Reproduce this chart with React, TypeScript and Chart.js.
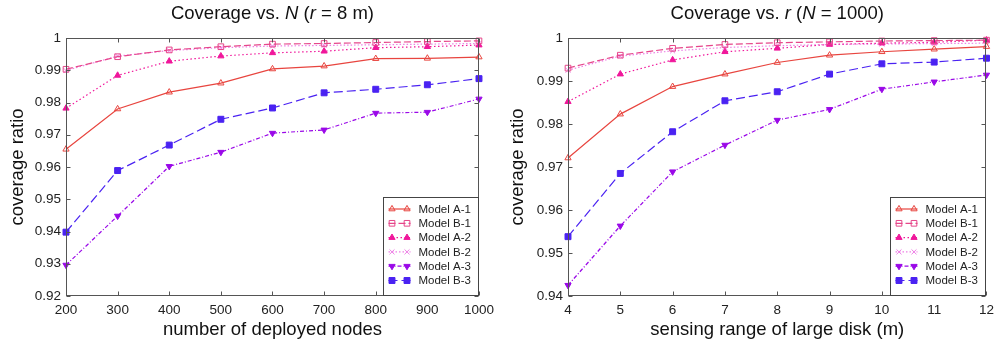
import React, { useEffect, useRef } from 'react';
import { Chart, registerables } from 'chart.js';

Chart.register(...registerables);

// ---------- data ----------
const nodeCounts = [200, 300, 400, 500, 600, 700, 800, 900, 1000];
const nodeA1 = [0.9655, 0.978, 0.9832, 0.986, 0.9904, 0.9913, 0.9936, 0.9937, 0.9941];
const nodeB1 = [0.9903, 0.9942, 0.9963, 0.9973, 0.9981, 0.9983, 0.9986, 0.9989, 0.9991];
const nodeA2 = [0.9782, 0.9884, 0.9928, 0.9944, 0.9954, 0.9959, 0.997, 0.9973, 0.9978];
const nodeB2 = [0.9899, 0.9944, 0.9961, 0.997, 0.9975, 0.9977, 0.9979, 0.9981, 0.9983];
const nodeA3 = [0.9296, 0.9448, 0.9602, 0.9646, 0.9705, 0.9715, 0.9767, 0.977, 0.9811];
const nodeB3 = [0.9398, 0.9589, 0.9668, 0.9748, 0.9783, 0.983, 0.9841, 0.9855, 0.9874];

const sensingRanges = [4, 5, 6, 7, 8, 9, 10, 11, 12];
const rangeA1 = [0.9721, 0.9823, 0.9887, 0.9916, 0.9943, 0.996, 0.9968, 0.9974, 0.998];
const rangeB1 = [0.993, 0.996, 0.9976, 0.9985, 0.9989, 0.9991, 0.9993, 0.9994, 0.9995];
const rangeA2 = [0.9852, 0.9916, 0.9949, 0.9968, 0.9976, 0.9985, 0.9988, 0.999, 0.9995];
const rangeB2 = [0.9925, 0.9958, 0.997, 0.9978, 0.9982, 0.9985, 0.9986, 0.9987, 0.9988];
const rangeA3 = [0.9425, 0.9563, 0.9689, 0.9751, 0.9809, 0.9834, 0.9881, 0.9898, 0.9914];
const rangeB3 = [0.9538, 0.9685, 0.9782, 0.9854, 0.9875, 0.9916, 0.994, 0.9944, 0.9953];

const seriesLabels = ['Model A-1', 'Model B-1', 'Model A-2', 'Model B-2', 'Model A-3', 'Model B-3'];

const leftTitle = [
  { text: 'Coverage vs. ', italic: false },
  { text: 'N', italic: true },
  { text: ' (', italic: false },
  { text: 'r', italic: true },
  { text: ' = 8 m)', italic: false },
];
const rightTitle = [
  { text: 'Coverage vs. ', italic: false },
  { text: 'r', italic: true },
  { text: ' (', italic: false },
  { text: 'N', italic: true },
  { text: ' = 1000)', italic: false },
];
const yAxisTitle = 'coverage ratio';
const leftXTitle = 'number of deployed nodes';
const rightXTitle = 'sensing range of large disk (m)';

// ---------- styles ----------
const FONT = "'Liberation Sans', Arial, sans-serif";
const seriesColors = ['#e8453f', '#e6468a', '#f0179b', '#ee80e6', '#9a08e8', '#4a22f2'];
const seriesDashes = [[], [7, 3], [1.5, 2.5], [1.5, 2], [4, 2, 1, 2], [9, 4]];
const seriesPointStyles = ['triangle', 'rect', 'triangle', 'crossRot', 'triangle', 'rect'];
const seriesFilled = [false, false, true, false, true, true];
const seriesRotations = [0, 0, 0, 0, 180, 0];
const seriesRadius = [3.6, 4, 3.6, 3.5, 3.6, 4.2];

function drawMarker(ctx: CanvasRenderingContext2D, style: string, x: number, y: number, r: number,
  rotation: number, color: string, filled: boolean) {
  ctx.save();
  ctx.setLineDash([]);
  ctx.strokeStyle = color;
  ctx.fillStyle = color;
  ctx.lineWidth = 1;
  ctx.beginPath();
  if (style === 'triangle') {
    const r0 = (rotation * Math.PI) / 180;
    for (let k = 0; k < 3; k++) {
      const a = r0 + (k * 2 * Math.PI) / 3;
      const px = x + Math.sin(a) * r;
      const py = y - Math.cos(a) * r;
      if (k === 0) ctx.moveTo(px, py); else ctx.lineTo(px, py);
    }
    ctx.closePath();
  } else if (style === 'rect') {
    const s = r * Math.SQRT1_2;
    ctx.rect(x - s, y - s, 2 * s, 2 * s);
  } else {
    const s = r * Math.SQRT1_2;
    ctx.moveTo(x - s, y - s); ctx.lineTo(x + s, y + s);
    ctx.moveTo(x + s, y - s); ctx.lineTo(x - s, y + s);
  }
  if (filled && style !== 'crossRot') ctx.fill();
  ctx.stroke();
  ctx.restore();
}

const framePlugin = {
  id: 'frameTicks',
  afterDatasetsDraw(chart: any) {
    const { ctx, chartArea: a, scales } = chart;
    ctx.save();
    ctx.strokeStyle = '#555';
    ctx.lineWidth = 1;
    ctx.setLineDash([]);
    const L = Math.round(a.left) + 0.5, R = Math.round(a.right) - 0.5;
    const T = Math.round(a.top) + 0.5, B = Math.round(a.bottom) - 0.5;
    ctx.beginPath();
    scales.y.ticks.forEach((t: any) => {
      const py = Math.round(scales.y.getPixelForValue(t.value)) + 0.5;
      ctx.moveTo(L, py); ctx.lineTo(L + 4, py);
      ctx.moveTo(R, py); ctx.lineTo(R - 4, py);
    });
    scales.x.ticks.forEach((t: any) => {
      const px = Math.round(scales.x.getPixelForValue(t.value)) + 0.5;
      ctx.moveTo(px, B); ctx.lineTo(px, B - 4);
      ctx.moveTo(px, T); ctx.lineTo(px, T + 4);
    });
    ctx.stroke();
    ctx.strokeRect(L, T, R - L, B - T);
    ctx.restore();
  },
};

const titlePlugin = {
  id: 'mixedTitle',
  afterDraw(chart: any, _args: any, opts: any) {
    const segs = opts.segments as { text: string; italic: boolean }[];
    if (!segs) return;
    const { ctx, chartArea: a } = chart;
    ctx.save();
    const size = 18.5;
    const fontFor = (it: boolean) => `${it ? 'italic ' : ''}${size}px ${FONT}`;
    let total = 0;
    const widths = segs.map((s) => { ctx.font = fontFor(s.italic); const w = ctx.measureText(s.text).width; total += w; return w; });
    let x = (a.left + a.right) / 2 - total / 2;
    ctx.fillStyle = '#111';
    ctx.textBaseline = 'alphabetic';
    ctx.textAlign = 'left';
    segs.forEach((s, i) => { ctx.font = fontFor(s.italic); ctx.fillText(s.text, x, 18.5); x += widths[i]; });
    ctx.restore();
  },
};

const legendPlugin = {
  id: 'boxLegend',
  afterDraw(chart: any) {
    const { ctx, chartArea: a } = chart;
    const w = 96, h = 99;
    const x0 = Math.round(a.right) - w + 0.5;
    const y0 = Math.round(a.bottom) - h + 0.5;
    ctx.save();
    ctx.fillStyle = '#fff';
    ctx.fillRect(x0, y0, w - 1, h - 1);
    ctx.strokeStyle = '#444';
    ctx.lineWidth = 1;
    ctx.strokeRect(x0, y0, w - 1, h - 1);
    chart.data.datasets.forEach((ds: any, i: number) => {
      const cy = y0 + 11.5 + i * 14.3;
      ctx.save();
      ctx.strokeStyle = ds.borderColor;
      ctx.lineWidth = 1.2;
      ctx.setLineDash(ds.borderDash || []);
      ctx.beginPath();
      ctx.moveTo(x0 + 5, cy); ctx.lineTo(x0 + 27, cy);
      ctx.stroke();
      ctx.restore();
      const filled = seriesFilled[i];
      drawMarker(ctx, ds.pointStyle, x0 + 8.5, cy, ds.pointRadius, ds.pointRotation, ds.borderColor, filled);
      drawMarker(ctx, ds.pointStyle, x0 + 23.5, cy, ds.pointRadius, ds.pointRotation, ds.borderColor, filled);
      ctx.fillStyle = '#222';
      ctx.font = `11.5px ${FONT}`;
      ctx.textBaseline = 'middle';
      ctx.textAlign = 'left';
      ctx.fillText(ds.label, x0 + 35, cy + 0.5);
    });
    ctx.restore();
  },
};

function buildChart(canvas: HTMLCanvasElement, xs: number[], ys: number[][], cfg: any) {
  const datasets = ys.map((vals, i) => ({
    label: seriesLabels[i],
    data: xs.map((x, k) => ({ x, y: vals[k] })),
    borderColor: seriesColors[i],
    backgroundColor: seriesFilled[i] ? seriesColors[i] : 'rgba(255,255,255,0)',
    pointBackgroundColor: seriesFilled[i] ? seriesColors[i] : 'rgba(255,255,255,0)',
    pointBorderColor: seriesColors[i],
    borderWidth: 1.2,
    borderDash: seriesDashes[i],
    pointStyle: seriesPointStyles[i],
    pointRadius: seriesRadius[i],
    pointRotation: seriesRotations[i],
    pointBorderWidth: 1,
    tension: 0,
    fill: false,
    clip: false as any,
  }));
  const tickFont = { family: FONT, size: 13.5 };
  const titleFont = { family: FONT, size: 18.5 };
  return new Chart(canvas, {
    type: 'line',
    data: { datasets },
    plugins: [framePlugin, titlePlugin, legendPlugin],
    options: {
      animation: false,
      responsive: false,
      events: [],
      layout: { padding: { left: 0, right: cfg.padRight, top: 38, bottom: 0 } },
      plugins: {
        legend: { display: false },
        tooltip: { enabled: false },
        mixedTitle: { segments: cfg.title },
      } as any,
      scales: {
        x: {
          type: 'linear',
          min: cfg.xMin,
          max: cfg.xMax,
          ticks: {
            stepSize: cfg.xStep, color: '#222', font: tickFont, padding: 6, maxRotation: 0, autoSkip: false,
            callback: (v: any) => String(v),
          },
          grid: { display: false, drawTicks: false },
          border: { display: false },
          title: { display: true, text: cfg.xTitle, color: '#111', font: titleFont, padding: { top: 0, bottom: 4 } },
          afterFit: (s: any) => { s.height = 49; },
        },
        y: {
          type: 'linear',
          min: cfg.yMin,
          max: 1,
          ticks: {
            stepSize: 0.01, color: '#222', font: tickFont, padding: 5, autoSkip: false,
            callback: (v: any) => String(Number(Number(v).toFixed(2))),
          },
          grid: { display: false, drawTicks: false },
          border: { display: false },
          title: { display: true, text: yAxisTitle, color: '#111', font: titleFont, padding: { top: 7, bottom: 0 } },
          afterFit: (s: any) => { s.width = cfg.yWidth; },
        },
      },
    } as any,
  });
}

export default function App() {
  const leftRef = useRef<HTMLCanvasElement>(null);
  const rightRef = useRef<HTMLCanvasElement>(null);
  useEffect(() => {
    const c1 = buildChart(leftRef.current!, nodeCounts, [nodeA1, nodeB1, nodeA2, nodeB2, nodeA3, nodeB3], {
      xMin: 200, xMax: 1000, xStep: 100, yMin: 0.92, xTitle: leftXTitle, title: leftTitle, yWidth: 66, padRight: 21,
    });
    const c2 = buildChart(rightRef.current!, sensingRanges, [rangeA1, rangeB1, rangeA2, rangeB2, rangeA3, rangeB3], {
      xMin: 4, xMax: 12, xStep: 1, yMin: 0.94, xTitle: rightXTitle, title: rightTitle, yWidth: 68, padRight: 12,
    });
    return () => { c1.destroy(); c2.destroy(); };
  }, []);
  return (
    <div style={{ position: 'absolute', left: 0, top: 0, width: 1000, height: 345, background: '#fff' }}>
      <canvas ref={leftRef} width={500} height={345} style={{ position: 'absolute', left: 0, top: 0, width: 500, height: 345 }} />
      <canvas ref={rightRef} width={500} height={345} style={{ position: 'absolute', left: 500, top: 0, width: 500, height: 345 }} />
    </div>
  );
}
